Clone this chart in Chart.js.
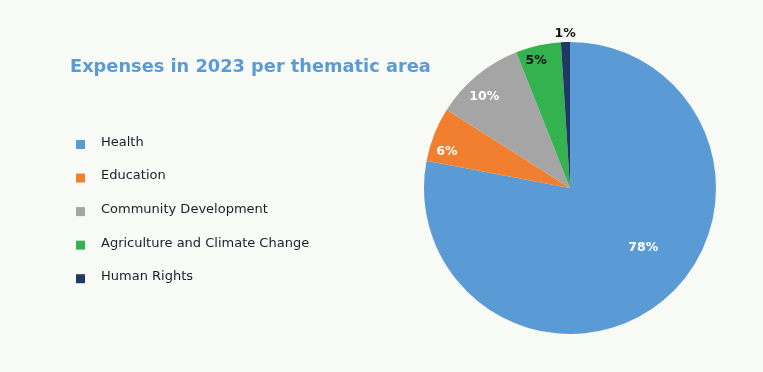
<!DOCTYPE html>
<html>
<head>
<meta charset="utf-8">
<script src="https://cdn.jsdelivr.net/npm/chart.js@4"></script>
<style>
  html, body { margin: 0; padding: 0; background: #f8faf6; }
  #wrap { width: 763px; height: 372px; position: relative; }
</style>
</head>
<body>
<div id="wrap"><canvas id="pieChart" width="763" height="372"></canvas></div>
<script>
// Chart data
const chartTitle = 'Expenses in 2023 per thematic area';
const categories = ['Health', 'Education', 'Community Development', 'Agriculture and Climate Change', 'Human Rights'];
const shares = [78, 6, 10, 5, 1];
const sliceColors = ['#5b9bd5', '#f27f30', '#a5a5a5', '#33b24f', '#1f3864'];
const labelColors = ['#ffffff', '#ffffff', '#ffffff', '#111111', '#111111'];
// label placement: fraction of radius, and angle nudge in degrees
const labelRadius = [0.65, 0.88, 0.86, 0.9, 1.06];
const labelShift = [-11, -5, -3.5, -2.3, 0];

const FONT = '"DejaVu Sans", sans-serif';

// Title + legend drawn on the left side of the canvas
const sideText = {
  id: 'sideText',
  afterDraw(chart) {
    const ctx = chart.ctx;
    ctx.save();
    ctx.font = 'bold 17.8px ' + FONT;
    ctx.fillStyle = '#5b9bd5';
    ctx.textBaseline = 'alphabetic';
    ctx.textAlign = 'left';
    ctx.fillText(chartTitle, 70, 72);

    ctx.font = '13px ' + FONT;
    ctx.textBaseline = 'middle';
    categories.forEach((name, i) => {
      const y = 144.5 + i * 33.55;
      ctx.fillStyle = sliceColors[i];
      ctx.fillRect(76, y - 4.5, 9, 9);
      ctx.fillStyle = '#1c1c2a';
      ctx.fillText(name, 101, y - 2);
    });
    ctx.restore();
  }
};

// Percentage labels placed near each slice's middle angle
const sliceLabels = {
  id: 'sliceLabels',
  afterDatasetsDraw(chart) {
    const ctx = chart.ctx;
    const meta = chart.getDatasetMeta(0);
    ctx.save();
    ctx.font = 'bold 12.5px ' + FONT;
    ctx.textAlign = 'center';
    ctx.textBaseline = 'middle';
    meta.data.forEach((arc, i) => {
      const mid = (arc.startAngle + arc.endAngle) / 2 + labelShift[i] * Math.PI / 180;
      const r = arc.outerRadius * labelRadius[i];
      const x = arc.x + Math.cos(mid) * r;
      const y = arc.y + Math.sin(mid) * r;
      ctx.fillStyle = labelColors[i];
      ctx.fillText(shares[i] + '%', x, y);
    });
    ctx.restore();
  }
};

const ctx = document.getElementById('pieChart').getContext('2d');
new Chart(ctx, {
  type: 'pie',
  data: {
    labels: categories,
    datasets: [{
      data: shares,
      backgroundColor: sliceColors,
      borderWidth: 0,
    }],
  },
  options: {
    responsive: false,
    animation: false,
    layout: {
      padding: { left: 424, right: 47, top: 42, bottom: 38 },
    },
    plugins: {
      legend: { display: false },
      tooltip: { enabled: false },
    },
  },
  plugins: [sideText, sliceLabels],
});
</script>
</body>
</html>
